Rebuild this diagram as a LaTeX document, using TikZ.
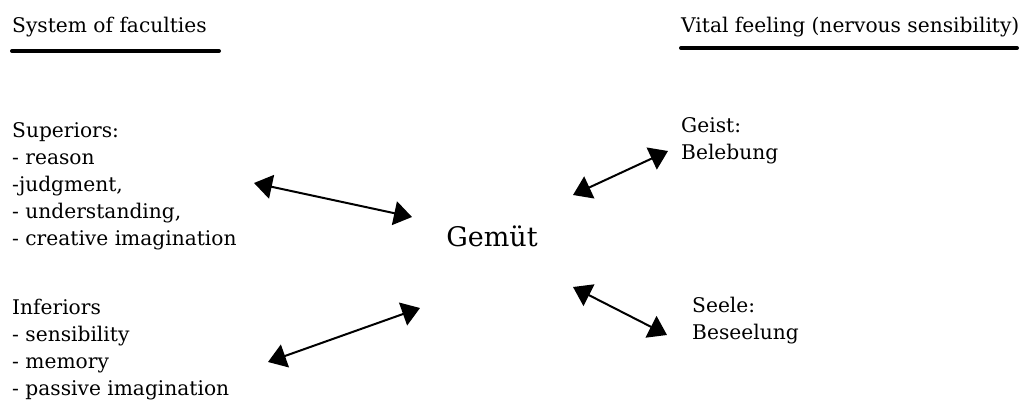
\documentclass[tikz,border=0pt]{standalone}
\usepackage{fontspec}
\setmainfont{DejaVu Serif}
\usetikzlibrary{arrows.meta}
\begin{document}
\begin{tikzpicture}[x=1pt,y=-1pt,
  lbl/.style={anchor=west,inner sep=0pt,font=\fontsize{20.2}{27}\selectfont,align=left},
  ttl/.style={anchor=base west,inner sep=0pt,font=\fontsize{20.2}{27}\selectfont},
  rule/.style={line width=4pt,line cap=round},
  dbl/.style={line width=2pt,{Triangle[length=18pt,width=24pt]}-{Triangle[length=18pt,width=24pt]}}]
\useasboundingbox (0,0) rectangle (1025,403);
\node[ttl] (t1) at (12,33) {System of faculties};
\draw[rule] (12,51) coordinate (u1a) -- (219,51) coordinate (u1b);
\node[ttl] (t2) at (681,33) {Vital feeling (nervous sensibility)};
\draw[rule] (681,48) coordinate (u2a) -- (1017,48) coordinate (u2b);
\node[lbl] (sup) at (12,186) {Superiors:\\- reason\\-judgment,\\- understanding,\\- creative imagination};
\node[lbl] (inf) at (12,350) {Inferiors\\- sensibility\\- memory\\- passive imagination};
\node[inner sep=0pt,font=\fontsize{27}{30}\selectfont] (gem) at (492,236) {Gemüt};
\node[lbl] (geist) at (681,141) {Geist:\\Belebung};
\node[lbl] (seele) at (692,321) {Seele:\\Beseelung};
\coordinate (a1) at (254,183); \coordinate (b1) at (412,217);
\coordinate (a2) at (268,362); \coordinate (b2) at (420,308);
\coordinate (a3) at (573,195); \coordinate (b3) at (668,151);
\coordinate (a4) at (573,287); \coordinate (b4) at (667,335);
\draw[dbl] (a1) -- (b1);
\draw[dbl] (a2) -- (b2);
\draw[dbl] (a3) -- (b3);
\draw[dbl] (a4) -- (b4);
\end{tikzpicture}
\end{document}
